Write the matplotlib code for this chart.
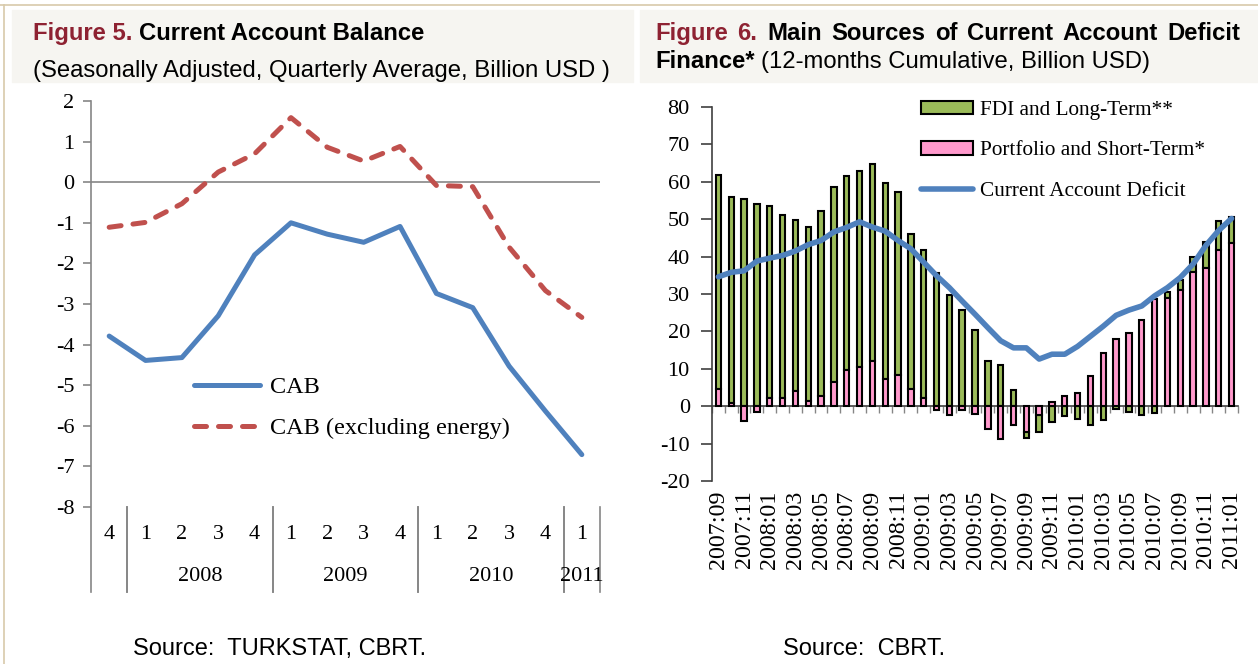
import matplotlib
matplotlib.use('Agg')
import matplotlib.pyplot as plt
from matplotlib.patches import Rectangle
from matplotlib.lines import Line2D
import matplotlib.transforms as mtransforms
import numpy as np

# ---------------- Figure 5 data ----------------
quarters = ['4', '1', '2', '3', '4', '1', '2', '3', '4', '1', '2', '3', '4', '1']
quarter_years = ['2007', '2008', '2008', '2008', '2008', '2009', '2009', '2009', '2009',
                 '2010', '2010', '2010', '2010', '2011']
year_labels = {'2007': '', '2008': '2008', '2009': '2009', '2010': '2010', '2011': '2011'}
cab = [-3.79, -4.39, -4.32, -3.29, -1.79, -1.00, -1.28, -1.48, -1.09, -2.74, -3.09, -4.53, -5.64, -6.71]
cab_ex_energy = [-1.11, -0.99, -0.53, 0.25, 0.70, 1.59, 0.86, 0.52, 0.88, -0.08, -0.11, -1.60, -2.67, -3.33]

# ---------------- Figure 6 data ----------------
months = ['2007:09', '2007:10', '2007:11', '2007:12', '2008:01', '2008:02', '2008:03', '2008:04',
          '2008:05', '2008:06', '2008:07', '2008:08', '2008:09', '2008:10', '2008:11', '2008:12',
          '2009:01', '2009:02', '2009:03', '2009:04', '2009:05', '2009:06', '2009:07', '2009:08',
          '2009:09', '2009:10', '2009:11', '2009:12', '2010:01', '2010:02', '2010:03', '2010:04',
          '2010:05', '2010:06', '2010:07', '2010:08', '2010:09', '2010:10', '2010:11', '2010:12',
          '2011:01']
portfolio = [4.6, 0.9, -4.0, -1.5, 2.3, 2.3, 4.0, 1.4, 2.8, 6.4, 9.6, 10.6, 12.1, 7.2, 8.4, 4.6,
             2.3, -1.1, -2.4, -0.9, -2.2, -6.2, -8.7, -4.9, -6.9, -2.4, 1.2, 2.7, 3.6, 8.1,
             14.2, 18.0, 19.6, 23.0, 28.6, 28.8, 31.2, 35.9, 37.0, 41.8, 43.6]
fdi = [57.1, 55.0, 55.3, 54.0, 51.3, 48.7, 45.8, 46.5, 49.3, 52.1, 51.9, 52.4, 52.6, 52.6, 48.8, 41.4,
       39.5, 35.7, 29.8, 25.8, 20.3, 12.2, 10.9, 4.3, -1.5, -4.5, -4.2, -2.5, -3.4, -4.9,
       -3.8, -0.8, -1.5, -2.4, -1.8, 1.8, 2.5, 4.1, 6.8, 7.6, 6.9]
cad = [34.6, 35.8, 36.2, 38.8, 39.6, 40.3, 41.5, 43.2, 44.3, 46.6, 47.8, 49.3, 47.9, 46.8, 44.3, 42.1,
       38.5, 34.9, 31.7, 28.1, 24.6, 21.0, 17.5, 15.6, 15.6, 12.6, 13.9, 13.9, 16.0, 18.7,
       21.4, 24.3, 25.7, 26.8, 29.5, 31.7, 34.4, 38.0, 43.0, 47.0, 50.2]

# ---------------- styling ----------------
W, H, DPI = 1258, 664, 100
RED_T = '#8E2232'
BLUE = '#4F81BD'
RED = '#C0504D'
GREEN = '#9BBB59'
PINK = '#FF99CC'
GRAY = '#868686'
SANS = 'Liberation Sans'
SERIF = 'Liberation Serif'

fig = plt.figure(figsize=(W / DPI, H / DPI), dpi=DPI)
fig.patch.set_facecolor('white')


def fx(x):
    return x / W


def fy(y):
    return 1 - y / H


def rect(l, t, r, b):
    return [l / W, 1 - b / H, (r - l) / W, (b - t) / H]


# decorative frame and title boxes
fig.add_artist(Line2D([0, 1], [fy(5), fy(5)], color='#D8CAAA', lw=1.2))
fig.add_artist(Line2D([fx(4), fx(4)], [0, fy(5)], color='#D8CAAA', lw=1.2))
fig.add_artist(Rectangle((fx(12), fy(82)), (633 - 12) / W, (82 - 10) / H, color='#F6F5F1', zorder=0))
fig.add_artist(Rectangle((fx(640), fy(82)), (1258 - 640) / W, (82 - 10) / H, color='#F6F5F1', zorder=0))

renderer = fig.canvas.get_renderer()


def put(x, y, s, **kw):
    kw.setdefault('family', SANS)
    kw.setdefault('size', 17.2)
    return fig.text(fx(x), fy(y), s, ha='left', va='baseline', **kw)


def wpx(t):
    return t.get_window_extent(renderer).width


# Left title
t = put(33, 40, 'Figure 5.', color=RED_T, weight='bold')
sp = 6.5
put(33 + wpx(t) + sp, 40, 'Current Account Balance', color='black', weight='bold')
put(33, 77, '(Seasonally Adjusted, Quarterly Average, Billion USD )', color='black')

# Right title (justified first line)
words = [('Figure', RED_T), ('6.', RED_T), ('Main', 'k'), ('Sources', 'k'), ('of', 'k'),
         ('Current', 'k'), ('Account', 'k'), ('Deficit', 'k')]
tmp = [put(0, -100, w, color=c, weight='bold') for w, c in words]
widths = [wpx(tt) for tt in tmp]
for tt in tmp:
    tt.remove()
x0, x1 = 655, 1240
gap = (x1 - x0 - sum(widths)) / (len(words) - 1)
xx = x0
for (w, c), ww in zip(words, widths):
    put(xx, 40, w, color=c, weight='bold')
    xx += ww + gap
t = put(655, 68, 'Finance*', color='black', weight='bold')
put(655 + wpx(t) + sp, 68, '(12-months Cumulative, Billion USD)', color='black')

# Sources
put(133, 655, 'Source:  TURKSTAT, CBRT.', color='black', size=17)
put(783, 655, 'Source:  CBRT.', color='black', size=17)

# ---------------- Figure 5 axes ----------------
ax1 = fig.add_axes(rect(91, 101, 600, 507))
ax1.patch.set_alpha(0)
xq = np.arange(len(quarters)) + 0.5
ax1.plot(xq, cab, color=BLUE, lw=3.6, solid_capstyle='round', solid_joinstyle='round', label='CAB', zorder=3)
ax1.plot(xq, cab_ex_energy, color=RED, lw=3.6, dashes=(2.4, 2.4), dash_capstyle='round',
         solid_joinstyle='round', label='CAB (excluding energy)', zorder=3)
ax1.set_xlim(0, len(quarters))
ax1.set_ylim(-8, 2)
ax1.axhline(0, color=GRAY, lw=1.2, zorder=1)
for s in ax1.spines.values():
    s.set_visible(False)
ax1.add_line(Line2D([0, 0], [1, -0.21], transform=ax1.transAxes, color=GRAY, lw=1.2, clip_on=False))
yt = list(range(-8, 3))
ax1.set_yticks(yt)
ax1.set_yticklabels([str(v) for v in yt], family=SERIF, size=16)
ax1.tick_params(axis='y', direction='out', length=6, color=GRAY, width=1.2, pad=6)
ax1.set_xticks(xq)
ax1.set_xticklabels(quarters, family=SERIF, size=16)
ax1.tick_params(axis='x', length=0, pad=13)

# year groups
trans1 = mtransforms.blended_transform_factory(ax1.transData, ax1.transAxes)
groups = []
for i, yv in enumerate(quarter_years):
    if not groups or groups[-1][0] != yv:
        groups.append([yv, i, i + 1])
    else:
        groups[-1][2] = i + 1
for yv, a, b in groups:
    ax1.add_line(Line2D([b, b], [0, -0.21], transform=trans1, color=GRAY, lw=1.2, clip_on=False))
    if a > 0:
        ax1.add_line(Line2D([a, a], [0, -0.21], transform=trans1, color=GRAY, lw=1.2, clip_on=False))
    ax1.text((a + b) / 2, -0.172, year_labels[yv], transform=trans1, ha='center', va='center',
             family=SERIF, size=16)

leg1 = ax1.legend(loc='upper left', bbox_to_anchor=(0.203, 0.322), frameon=False, borderpad=0,
                  borderaxespad=0, handlelength=2.7, handletextpad=0.4, labelspacing=0.78,
                  prop={'family': SERIF, 'size': 17.5})

# ---------------- Figure 6 axes ----------------
ax2 = fig.add_axes(rect(712, 107, 1238, 481))
ax2.patch.set_alpha(0)
xm = np.arange(len(months))
port = np.array(portfolio)
fd = np.array(fdi)
green_bottom = np.where(np.sign(fd) == np.sign(port), port, 0.0)
bw = 0.42
b_fdi = ax2.bar(xm, fd, bottom=green_bottom, width=bw, color=GREEN, edgecolor='black', linewidth=1.5,
                label='FDI and Long-Term**', zorder=2)
b_port = ax2.bar(xm, port, width=bw, color=PINK, edgecolor='black', linewidth=1.5,
                 label='Portfolio and Short-Term*', zorder=2)
l_cad, = ax2.plot(xm, cad, color=BLUE, lw=4, solid_capstyle='round', solid_joinstyle='round',
                  label='Current Account Deficit', zorder=4)
ax2.set_xlim(-0.5, len(months) - 0.5)
ax2.set_ylim(-20, 80)
for k in ['top', 'right', 'bottom']:
    ax2.spines[k].set_visible(False)
ax2.spines['left'].set_color('#404040')
ax2.spines['left'].set_linewidth(1.2)
yt2 = list(range(-20, 81, 10))
ax2.set_yticks(yt2)
ax2.set_yticklabels([str(v) for v in yt2], family=SERIF, size=16)
ax2.tick_params(axis='y', direction='out', length=8, color='#404040', width=1.2, pad=8)
ax2.set_xticks(xm[::2])
ax2.set_xticklabels(months[::2], rotation=90, family=SERIF, size=17.3)
ax2.tick_params(axis='x', length=0, pad=7)

sec = ax2.secondary_xaxis(20 / 100)
sec.set_xticks(np.arange(-0.5, len(months), 1))
sec.set_xticklabels([])
sec.tick_params(axis='x', direction='out', length=5, color=GRAY, width=1.0)
sec.spines['bottom'].set_visible(True)
sec.spines['bottom'].set_color('#404040')
sec.spines['bottom'].set_linewidth(1.2)

leg2 = ax2.legend([b_fdi, b_port, l_cad],
                  ['FDI and Long-Term**', 'Portfolio and Short-Term*', 'Current Account Deficit'],
                  loc='upper left', bbox_to_anchor=(0.398, 1.017), frameon=False, borderpad=0,
                  borderaxespad=0, handlelength=2.45, handleheight=0.6, handletextpad=0.3,
                  labelspacing=1.0, prop={'family': SERIF, 'size': 15.3})

fig.savefig('out.png', dpi=DPI, facecolor='white')
